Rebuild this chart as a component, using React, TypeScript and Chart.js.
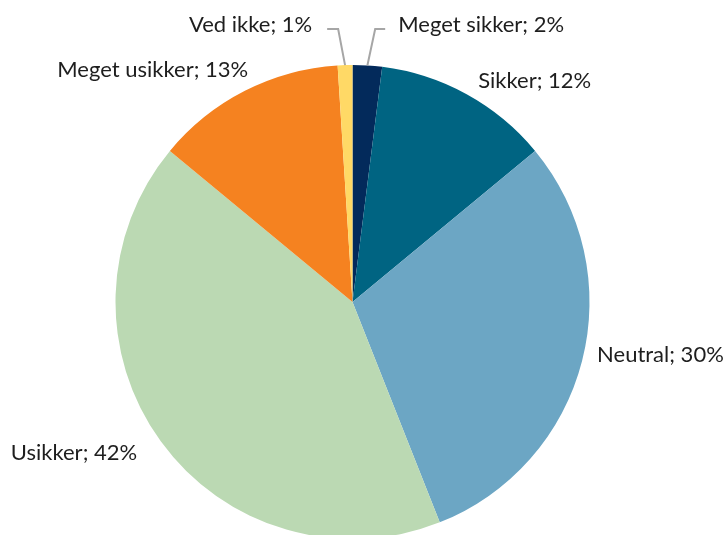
import React, { useEffect, useRef } from "react";
import { Chart, registerables } from "chart.js";

Chart.register(...registerables);

const categories = ["Meget sikker", "Sikker", "Neutral", "Usikker", "Meget usikker", "Ved ikke"];
const shares = [2, 12, 30, 42, 13, 1];
const sliceColors = ["#032A5B", "#006482", "#6CA6C4", "#BBD9B3", "#F58220", "#FFD966"];

// label layout relative to each slice's outer mid-point: align, text offset, optional leader elbow/end
type LabelLayout = { align: CanvasTextAlign; dx: number; dy: number; leader?: [number, number, number, number] };
const LABEL_LAYOUT: LabelLayout[] = [
  { align: "left", dx: 30.8, dy: -33.5, leader: [7.8, -36.5, 17.8, -36.5] },
  { align: "left", dx: 11.5, dy: -6.4 },
  { align: "left", dx: 15, dy: 1 },
  { align: "right", dx: -23.6, dy: 18.7 },
  { align: "right", dx: 3.3, dy: -13.8 },
  { align: "right", dx: -32.9, dy: -33, leader: [-6.9, -36, -17.9, -36] },
];

const FONT = "22px Lato, 'Open Sans', sans-serif";

const labelPlugin = {
  id: "pieLabels",
  afterDatasetsDraw(chart: any) {
    const ctx = chart.ctx as CanvasRenderingContext2D;
    const meta = chart.getDatasetMeta(0);
    ctx.save();
    meta.data.forEach((arc: any, i: number) => {
      const { x, y, startAngle, endAngle, outerRadius } = arc.getProps(
        ["x", "y", "startAngle", "endAngle", "outerRadius"],
        true
      );
      const mid = (startAngle + endAngle) / 2;
      const px = x + Math.cos(mid) * outerRadius;
      const py = y + Math.sin(mid) * outerRadius;
      const lay = LABEL_LAYOUT[i];
      if (lay.leader) {
        ctx.strokeStyle = "#A6A6A6";
        ctx.lineWidth = 2;
        ctx.beginPath();
        ctx.moveTo(px, py);
        ctx.lineTo(px + lay.leader[0], py + lay.leader[1]);
        ctx.lineTo(px + lay.leader[2], py + lay.leader[3]);
        ctx.stroke();
      }
      ctx.font = FONT;
      ctx.fillStyle = "#1E1E1E";
      ctx.textAlign = lay.align;
      ctx.textBaseline = "alphabetic";
      ctx.fillText(`${categories[i]}; ${shares[i]}%`, px + lay.dx, py + lay.dy);
    });
    ctx.restore();
  },
};

export default function App() {
  const ref = useRef<HTMLCanvasElement>(null);
  useEffect(() => {
    if (!ref.current) return;
    const chart = new Chart(ref.current, {
      type: "pie",
      data: {
        labels: categories,
        datasets: [
          {
            data: shares,
            backgroundColor: sliceColors,
            borderWidth: 0,
            radius: 237,
          } as any,
        ],
      },
      options: {
        responsive: false,
        maintainAspectRatio: false,
        animation: false,
        layout: { padding: { top: 69, bottom: 0, left: 115, right: 138 } },
        plugins: {
          legend: { display: false },
          tooltip: { enabled: false },
        },
      },
      plugins: [labelPlugin],
    });
    return () => chart.destroy();
  }, []);
  return (
    <div style={{ position: "fixed", left: 0, top: 0, width: 728, height: 535, background: "#fff" }}>
      <canvas ref={ref} width={728} height={535} style={{ width: 728, height: 535 }} />
    </div>
  );
}
